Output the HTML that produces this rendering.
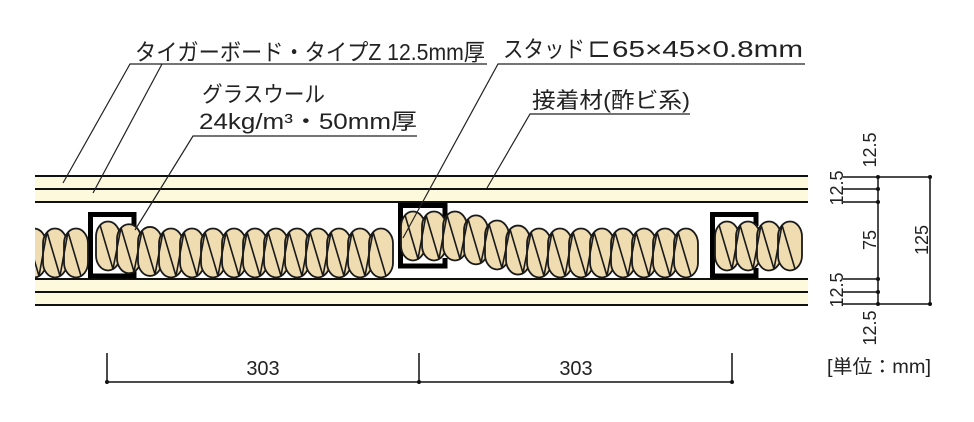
<!DOCTYPE html>
<html><head><meta charset="utf-8">
<style>
html,body{margin:0;padding:0;background:#fff;}
svg{display:block;}
text{font-family:"Liberation Sans","Noto Sans CJK JP",sans-serif;fill:#222;}
</style></head>
<body>
<svg id="s" width="974" height="422" viewBox="0 0 974 422" xmlns="http://www.w3.org/2000/svg">
<defs><clipPath id="c"><rect x="35" y="195" width="773" height="100"/></clipPath></defs>
<rect x="35" y="176" width="773" height="26" fill="#fdf9dc"/>
<rect x="35" y="279" width="773" height="26" fill="#fdf9dc"/>
<g stroke="#111" stroke-width="2">
<line x1="35" y1="176" x2="808" y2="176"/>
<line x1="35" y1="189" x2="808" y2="189"/>
<line x1="35" y1="202" x2="808" y2="202"/>
<line x1="35" y1="279" x2="808" y2="279"/>
<line x1="35" y1="292" x2="808" y2="292"/>
<line x1="35" y1="305" x2="808" y2="305"/>
</g>
<g fill="none" stroke="#000" stroke-width="5">
<path d="M134 226 V214.5 H90.5 V276 H134 V268"/>
<path d="M445 218 V205.5 H400.5 V266 H445 V258"/>
<path d="M756 226 V214.5 H712.5 V276 H756 V268"/>
</g>
<g id="batt" clip-path="url(#c)"></g>
<g stroke="#222" stroke-width="1.2" fill="none">
<polyline points="487,64 130,64 63,183"/>
<line x1="162" y1="64" x2="93" y2="193"/>
<polyline points="417,136 193,136 135,230"/>
<polyline points="805,64 498,64 403,238"/>
<polyline points="690,114 530,114 487,188"/>
</g>
<text x="135" y="60" font-size="23" textLength="350" lengthAdjust="spacingAndGlyphs">タイガーボード・タイプZ 12.5mm厚</text>
<text x="503" y="57" font-size="23" textLength="82" lengthAdjust="spacingAndGlyphs">スタッド</text>
<path d="M608 42.5 H591.5 V56 H608" fill="none" stroke="#222" stroke-width="2"/>
<text x="612" y="57" font-size="23" textLength="191" lengthAdjust="spacingAndGlyphs">65×45×0.8mm</text>
<text x="202" y="102" font-size="22" textLength="123" lengthAdjust="spacingAndGlyphs">グラスウール</text>
<text x="199" y="129" font-size="22" textLength="218" lengthAdjust="spacingAndGlyphs">24kg/m³・50mm厚</text>
<text x="532" y="108" font-size="22" textLength="158" lengthAdjust="spacingAndGlyphs">接着材(酢ビ系)</text>
<g stroke="#111" stroke-width="1.5">
<line x1="843" y1="177" x2="930" y2="177"/>
<line x1="843" y1="189" x2="878" y2="189"/>
<line x1="843" y1="202" x2="878" y2="202"/>
<line x1="843" y1="279" x2="878" y2="279"/>
<line x1="843" y1="292" x2="878" y2="292"/>
<line x1="843" y1="304" x2="930" y2="304"/>
<line x1="878" y1="177" x2="878" y2="304"/>
<line x1="930" y1="177" x2="930" y2="304"/>
</g>
<g fill="#111"><circle cx="878" cy="177" r="2"/><circle cx="878" cy="189" r="2"/><circle cx="878" cy="202" r="2"/><circle cx="878" cy="279" r="2"/><circle cx="878" cy="292" r="2"/><circle cx="878" cy="304" r="2"/><circle cx="930" cy="177" r="2"/><circle cx="930" cy="304" r="2"/></g>
<g font-size="18" text-anchor="middle">
<text transform="translate(876,150) rotate(-90)">12.5</text>
<text transform="translate(843,188) rotate(-90)">12.5</text>
<text transform="translate(876,240) rotate(-90)">75</text>
<text transform="translate(928,240) rotate(-90)">125</text>
<text transform="translate(843,290) rotate(-90)">12.5</text>
<text transform="translate(876,328) rotate(-90)">12.5</text>
</g>
<text x="827" y="373" font-size="19" textLength="104" lengthAdjust="spacingAndGlyphs">[単位：mm]</text>
<g stroke="#111" stroke-width="1.5">
<line x1="107" y1="382" x2="732" y2="382"/>
<line x1="107" y1="353" x2="107" y2="382"/>
<line x1="419" y1="353" x2="419" y2="382"/>
<line x1="732" y1="353" x2="732" y2="382"/>
</g>
<g fill="#111"><circle cx="107" cy="382" r="2"/><circle cx="419" cy="382" r="2"/><circle cx="732" cy="382" r="2"/></g>
<text x="263" y="375" font-size="20" text-anchor="middle">303</text>
<text x="576" y="375" font-size="20" text-anchor="middle">303</text>
</svg>
<script>
(function(){
var g=document.getElementById('batt'),ns='http://www.w3.org/2000/svg';
function seg(x0,x1,cyf){
  var pts=[];
  for(var x=x0;x<=x1;x+=21){
    var cy=cyf(x);
    var e=document.createElementNS(ns,'rect');
    e.setAttribute('x',x-12);e.setAttribute('y',cy-24.5);e.setAttribute('width',24);e.setAttribute('height',49);
    e.setAttribute('rx',12);e.setAttribute('ry',15);
    e.setAttribute('fill','#efdcb0');e.setAttribute('stroke','#1a1a1a');e.setAttribute('stroke-width','1.8');
    g.appendChild(e);
    pts.push((x-8)+','+(cy-21));pts.push((x+5)+','+(cy+23));
  }
  var p=document.createElementNS(ns,'polyline');
  p.setAttribute('points',pts.join(' '));p.setAttribute('fill','none');p.setAttribute('stroke','#1a1a1a');p.setAttribute('stroke-width','1.6');
  g.appendChild(p);
}
seg(34,76,function(){return 253;});
seg(108,392,function(x){return x<160?246+(x-108)*0.13:253;});
seg(413,702,function(x){return x<460?236:(x<530?236+(x-460)*17/70:253);});
seg(727,808,function(){return 246;});
})();
</script>
</body></html>
